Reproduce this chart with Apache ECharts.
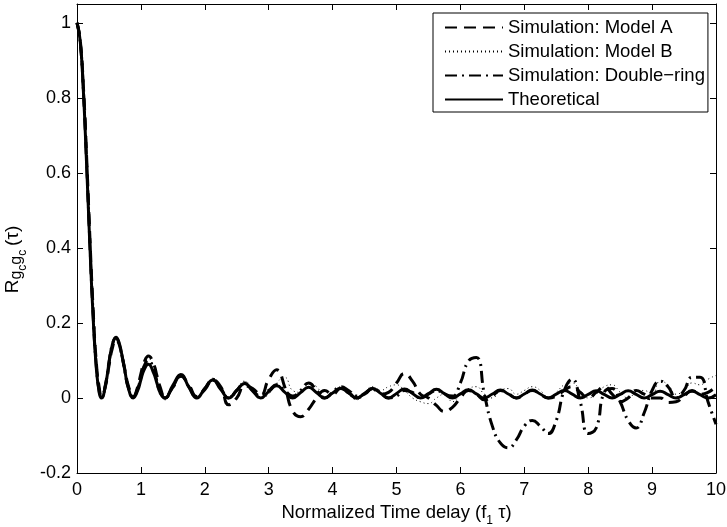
<!DOCTYPE html>
<html>
<head>
<meta charset="utf-8">
<script src="https://cdn.jsdelivr.net/npm/echarts@6/dist/echarts.min.js"></script>
<style>html,body{margin:0;padding:0;background:#fff}#c{width:727px;height:527px}</style>
</head>
<body>
<div id="c"></div>
<script>
const tau = [0,0.05,0.1,0.15,0.2,0.25,0.3,0.35,0.383,0.45,0.5,0.55,0.61,0.65,0.7,0.75,0.8,0.879,0.95,1.0,1.05,1.117,1.2,1.25,1.3,1.377,
1.5,1.625,1.75,1.875,2.0,2.125,2.25,2.375,2.5,2.625,2.75,2.875,3.0,3.125,3.25,3.375,3.5,3.625,3.75,3.875,
4.0,4.125,4.25,4.375,4.5,4.625,4.75,4.875,5.0,5.125,5.25,5.375,5.5,5.625,5.75,5.875,
6.0,6.125,6.25,6.375,6.5,6.625,6.75,6.875,7.0,7.125,7.25,7.375,7.5,7.625,7.75,7.875,
8.0,8.125,8.25,8.375,8.5,8.625,8.75,8.875,9.0,9.125,9.25,9.375,9.5,9.625,9.75,9.875,10.0];

const modelA = [1,0.955,0.83,0.645,0.435,0.245,0.1,0.025,0.004,0.035,0.085,0.13,0.155,0.148,0.115,0.075,0.035,0.004,0.03,0.065,0.095,0.112,0.09,0.06,0.03,0.003,
0.028,0.058,0.035,0.004, 0.022,0.048,0.03,-0.018, 0.0,0.032,0.025,0.008, 0.05,0.075,0.03,-0.035,
-0.05,-0.03,0.0,0.02, 0.01,0.025,0.015,0.0, 0.01,0.025,0.01,0.015, 0.04,0.065,0.045,0.01,
0.0,-0.02,-0.036,-0.025, 0.0,0.02,0.01,-0.005, 0.005,0.02,0.012,0.0, 0.01,0.02,0.01,0.0,
0.005,0.02,0.03,0.015, 0.0,0.015,0.03,0.01, -0.01,0.0,0.02,0.01, 0.0,0.0,-0.012,-0.01,
0.005,0.02,0.01,0.015, 0.03];

const modelB = [1,0.95,0.82,0.63,0.42,0.23,0.09,0.018,0.003,0.04,0.09,0.135,0.158,0.15,0.118,0.075,0.035,0.006,0.03,0.06,0.09,0.105,0.08,0.05,0.02,-0.005,
0.025,0.055,0.03,0.0, 0.025,0.045,0.02,0.005, 0.025,0.045,0.02,0.0, 0.01,0.04,0.055,0.02,
0.015,0.04,0.03,0.005, 0.01,0.03,0.01,-0.005, 0.015,0.03,0.02,0.03, 0.035,0.02,0.0,-0.01,
-0.015,0.0,0.01,-0.01, 0.01,0.025,0.03,0.01, 0.0,0.02,0.025,0.01, 0.02,0.03,0.02,0.0,
0.015,0.035,0.04,0.02, 0.0,0.01,0.03,0.035, 0.015,0.0,0.015,0.02, 0.01,0.045,0.035,0.01,
0.02,0.04,0.035,0.05, 0.06];

const doubleRing = [1,0.95,0.82,0.63,0.42,0.23,0.09,0.015,0.002,0.04,0.095,0.14,0.16,0.15,0.115,0.07,0.03,0.003,0.025,0.055,0.085,0.1,0.075,0.045,0.015,0.0,
0.03,0.06,0.03,0.002, 0.025,0.05,0.025,0.0, 0.02,0.04,0.02,0.005, 0.02,0.035,0.02,0.005,
0.02,0.04,0.02,0.0, 0.015,0.03,0.02,0.005, 0.01,0.025,0.015,0.0, 0.005,0.02,0.015,0.0,
0.01,0.02,0.01,0.005, 0.04,0.098,0.108,0.01, -0.075,-0.12,-0.133,-0.112, -0.075,-0.06,-0.075,-0.095,
-0.06,0.02,0.05,-0.01, -0.095,-0.08,0.015,0.025, -0.01,-0.06,-0.08,-0.04, 0.02,0.045,0.03,0.0,
0.02,0.055,0.055,-0.01, -0.07];

const theoretical = [1,0.952,0.817,0.624,0.412,0.223,0.084,0.012,0,0.038,0.0925,0.1395,0.162,0.152,0.117,0.072,0.0285,0,0.020,0.0485,0.075,0.090,0.066,0.040,0.0144,0,
0.0338,0.0623,0.0290,0, 0.0253,0.0477,0.0225,0, 0.0203,0.0386,0.0184,0, 0.0169,0.0324,0.0156,0,
0.0145,0.0285,0.014,0, 0.013,0.026,0.013,0, 0.0125,0.025,0.0125,0, 0.012,0.024,0.012,0,
0.0115,0.023,0.0115,0, 0.011,0.022,0.011,0, 0.0105,0.021,0.0105,0, 0.0105,0.021,0.0105,0,
0.01,0.02,0.01,0, 0.0095,0.019,0.0095,0, 0.0095,0.019,0.0095,0, 0.009,0.018,0.009,0,
0.009,0.018,0.009,0, 0.009];

const legendNames = ['Simulation: Model A','Simulation: Model B','Simulation: Double\u2212ring','Theoretical'];
const xTicks = {min: 0, max: 10, interval: 1};
const yTicks = {min: -0.2, max: 1.05, interval: 0.2};

const FONT = '"Liberation Sans", Arial, Helvetica, sans-serif';
const pairs = ys => tau.map((t, i) => [t, ys[i]]);

const chart = echarts.init(document.getElementById('c'), null, {renderer: 'canvas'});
const axisCommon = {
  axisLine: {show: true, onZero: false, lineStyle: {color: '#000', width: 1}},
  axisTick: {show: true, inside: true, length: 6, lineStyle: {color: '#000'}},
  splitLine: {show: false}
};
function mkSeries(name, ys, ls) {
  return {name, type: 'line', data: pairs(ys), xAxisIndex: 0, yAxisIndex: 0,
    symbol: 'none', showSymbol: false, smooth: 0.5, animation: false,
    lineStyle: Object.assign({color: '#000'}, ls), itemStyle: {color: '#000'}};
}
chart.setOption({
  animation: false,
  backgroundColor: '#fff',
  textStyle: {fontFamily: FONT},
  grid: {left: 77, right: 11, top: 4, bottom: 54, containLabel: false, outerBoundsMode: 'none'},
  legend: {
    data: legendNames, orient: 'vertical', left: 433, top: 13,
    itemWidth: 58, itemHeight: 18, itemGap: 5, padding: [5, 3, 3, 11],
    borderColor: '#000', borderWidth: 1, backgroundColor: '#fff',
    itemStyle: {opacity: 0},
    textStyle: {fontSize: 18.5, color: '#000', fontFamily: FONT}
  },
  xAxis: [
    Object.assign({type: 'value', position: 'bottom', min: xTicks.min, max: xTicks.max, interval: xTicks.interval,
      axisLabel: {color: '#000', fontSize: 18, margin: 8, fontFamily: FONT},
      name: '{n|Normalized Time delay (f}{s|1}{n| \u03c4)}', nameLocation: 'middle', nameGap: 27,
      nameTextStyle: {color: '#000', fontFamily: FONT, rich: {
        n: {fontSize: 18.5, color: '#000', fontFamily: FONT, lineHeight: 26, verticalAlign: 'middle'},
        s: {fontSize: 12, color: '#000', fontFamily: FONT, lineHeight: 12, verticalAlign: 'bottom'}
      }}}, axisCommon),
    Object.assign({type: 'value', position: 'top', min: xTicks.min, max: xTicks.max, interval: xTicks.interval,
      axisLabel: {show: false}}, axisCommon)
  ],
  yAxis: [
    Object.assign({type: 'value', position: 'left', min: yTicks.min, max: yTicks.max, interval: yTicks.interval,
      axisLabel: {color: '#000', fontSize: 18, margin: 6, fontFamily: FONT, showMaxLabel: false,
        formatter: v => String(Math.round(v * 10) / 10)},
      name: '{R|R}{g|g}{c|c}{g|g}{c|c}{sp| }{t|(\u03c4)}', nameLocation: 'middle', nameGap: 28, nameRotate: 90,
      nameTextStyle: {color: '#000', fontFamily: FONT, padding: [0, 42, 0, 0], rich: {
        R: {fontSize: 19, color: '#000', fontFamily: FONT, lineHeight: 32, verticalAlign: 'middle'},
        g: {fontSize: 16, color: '#000', fontFamily: FONT, lineHeight: 16, verticalAlign: 'bottom', padding: [0, 0, 4, 0]},
        c: {fontSize: 12, color: '#000', fontFamily: FONT, lineHeight: 12, verticalAlign: 'bottom', padding: [0, 0, 0, 0]},
        sp: {fontSize: 14, lineHeight: 12, verticalAlign: 'middle'},
        t: {fontSize: 19, color: '#000', fontFamily: FONT, lineHeight: 20, verticalAlign: 'middle'}
      }}}, axisCommon),
    Object.assign({type: 'value', position: 'right', min: yTicks.min, max: yTicks.max, interval: yTicks.interval,
      axisLabel: {show: false}}, axisCommon)
  ],
  series: [
    mkSeries(legendNames[0], modelA, {width: 3, type: [12, 7]}),
    mkSeries(legendNames[1], modelB, {width: 1, type: [1, 3]}),
    mkSeries(legendNames[2], doubleRing, {width: 3, type: [12, 5, 2, 5]}),
    mkSeries(legendNames[3], theoretical, {width: 3, type: 'solid'})
  ]
});
</script>
</body>
</html>
